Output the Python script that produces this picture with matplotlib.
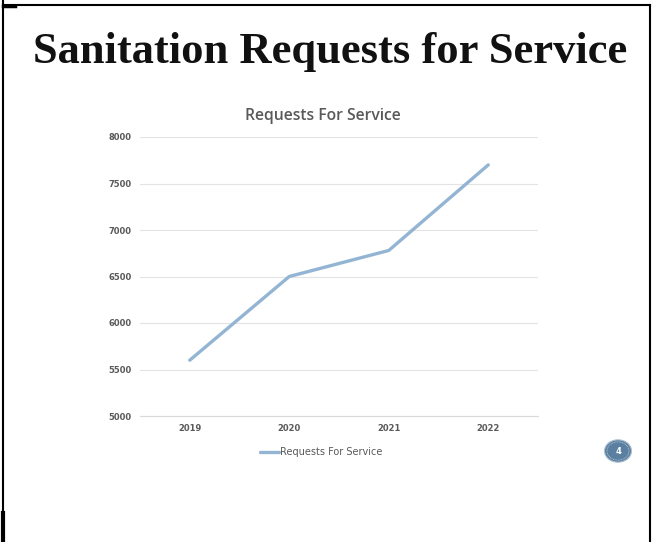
import matplotlib.pyplot as plt
from matplotlib.patches import Circle
from matplotlib.lines import Line2D

years = ['2019', '2020', '2021', '2022']
requests = [5600, 6500, 6780, 7700]
yticks = [5000, 5500, 6000, 6500, 7000, 7500, 8000]

fig = plt.figure(figsize=(6.54, 5.42), dpi=100)
fig.patch.set_facecolor('white')

# slide frame
fig.add_artist(Line2D([2.5/654, 2.5/654], [0, 1], color='black', lw=1.5))
fig.add_artist(Line2D([2.5/654, 650/654], [1-4.5/542, 1-4.5/542], color='black', lw=1.5))
fig.add_artist(Line2D([649.5/654, 649.5/654], [0, 1-4.5/542], color='black', lw=1.5))
fig.add_artist(Line2D([2.5/654, 15/654], [1-5.5/542, 1-5.5/542], color='black', lw=2.5))
fig.add_artist(Line2D([3/654, 3/654], [0, 1-513/542], color='black', lw=3))

fig.text(330/654, 1-52/542, 'Sanitation Requests for Service', ha='center', va='center',
         fontsize=32, fontweight='bold', family='Liberation Serif', color='#111111')

ax = fig.add_axes([140/654, 1-416/542, 398/654, 279/542])
ax.plot(range(len(years)), requests, color='#93b5d3', lw=2.4, solid_capstyle='round',
        label='Requests For Service')
ax.set_xlim(-0.5, len(years) - 0.5)
ax.set_ylim(5000, 8000)
ax.set_xticks(range(len(years)))
ax.set_xticklabels(years)
ax.set_yticks(yticks)
ax.tick_params(length=0, labelsize=6, labelcolor='#595959', pad=6)
for lab in ax.get_xticklabels() + ax.get_yticklabels():
    lab.set_fontweight('bold')
ax.grid(axis='y', color='#e3e3e3', lw=0.8)
for s in ['top', 'right', 'left']:
    ax.spines[s].set_visible(False)
ax.spines['bottom'].set_color('#d9d9d9')
ax.set_axisbelow(True)

fig.text(323/654, 1-116/542, 'Requests For Service', ha='center', va='center',
         fontsize=11.3, fontweight='semibold', family='Open Sans', color='#595959')

leg = ax.legend(loc='center', bbox_to_anchor=(321/654, 1-452/542), bbox_transform=fig.transFigure,
                frameon=False, fontsize=7, handlelength=2.0, handletextpad=0.05)
for t in leg.get_texts():
    t.set_color('#595959')

# page number badge
circ = Circle((618/654, 1-451/542), 13.5/654, transform=fig.transFigure, facecolor='#5a7fa1',
              edgecolor='#aebfd0', lw=0.8)
fig.add_artist(circ)
ring = Circle((618/654, 1-451/542), 11/654, transform=fig.transFigure, facecolor='none',
              edgecolor='#c9d6e3', lw=0.6, ls=(0, (1, 1)))
fig.add_artist(ring)
fig.text(618/654, 1-451/542, '4', ha='center', va='center', fontsize=6, color='white',
         fontweight='bold')

fig.savefig('out.png', dpi=100)
